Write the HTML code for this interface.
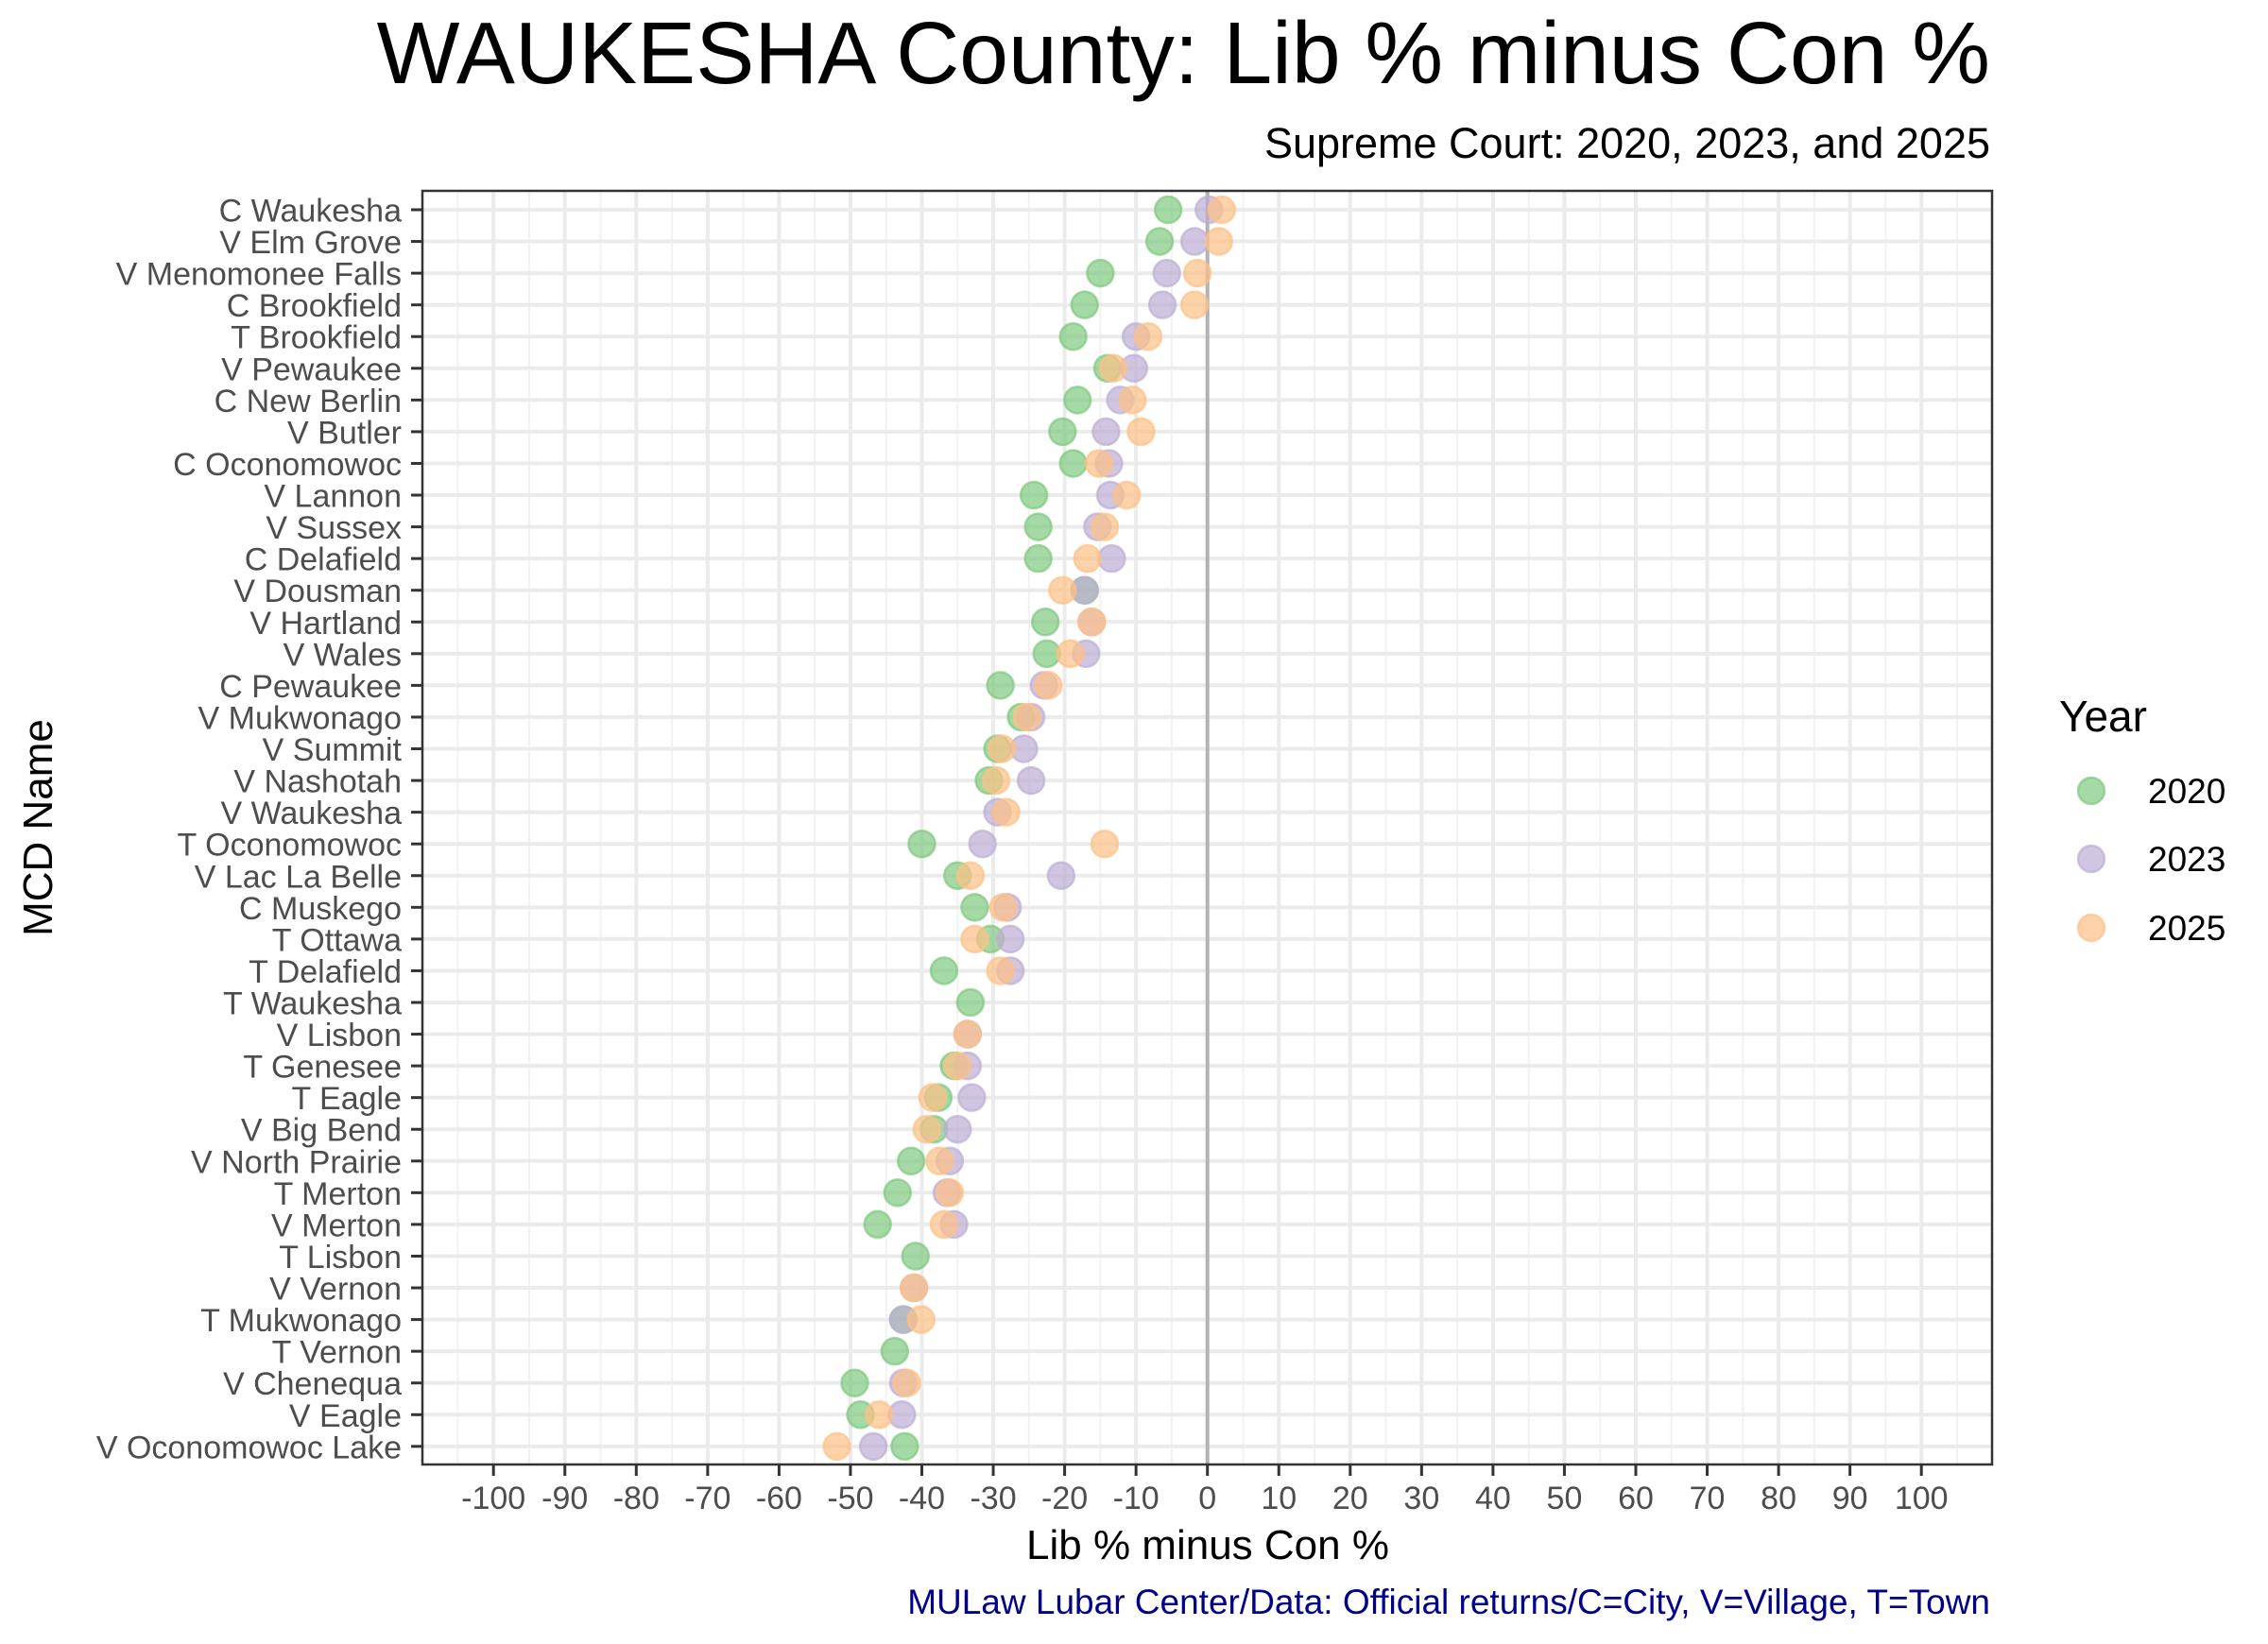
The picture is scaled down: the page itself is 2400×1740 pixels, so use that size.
<!DOCTYPE html>
<html><head><meta charset="utf-8"><title>WAUKESHA County: Lib % minus Con %</title>
<style>html,body{margin:0;padding:0;background:#fff}svg{display:block}text{font-family:"Liberation Sans",Arial,sans-serif}</style>
</head><body>
<svg id="chart" width="2400" height="1740" viewBox="0 0 2400 1740" xmlns="http://www.w3.org/2000/svg">
<rect width="2400" height="1740" fill="#fff"/>
<text x="2106" y="88" font-size="93" text-anchor="end" fill="#000">WAUKESHA County: Lib % minus Con %</text>
<text x="2106" y="167" font-size="45" text-anchor="end" fill="#000">Supreme Court: 2020, 2023, and 2025</text>
<g id="grid"></g>
<g id="points"></g>
<rect x="447" y="202" width="1661" height="1348" fill="none" stroke="#333" stroke-width="2.5"/>
<g id="axes"></g>
<text x="1278" y="1650" font-size="44" text-anchor="middle" fill="#000">Lib % minus Con %</text>
<text transform="translate(55,876) rotate(-90)" font-size="44" text-anchor="middle" fill="#000">MCD Name</text>
<text x="2106" y="1708" font-size="37" text-anchor="end" fill="#00008B">MULaw Lubar Center/Data: Official returns/C=City, V=Village, T=Town</text>
<g>
<text x="2179" y="774" font-size="46" fill="#000">Year</text>
<g id="legend-items"></g>
</g>
</svg>
<script>
const categories = ["C Waukesha","V Elm Grove","V Menomonee Falls","C Brookfield","T Brookfield","V Pewaukee","C New Berlin","V Butler","C Oconomowoc","V Lannon","V Sussex","C Delafield","V Dousman","V Hartland","V Wales","C Pewaukee","V Mukwonago","V Summit","V Nashotah","V Waukesha","T Oconomowoc","V Lac La Belle","C Muskego","T Ottawa","T Delafield","T Waukesha","V Lisbon","T Genesee","T Eagle","V Big Bend","V North Prairie","T Merton","V Merton","T Lisbon","V Vernon","T Mukwonago","T Vernon","V Chenequa","V Eagle","V Oconomowoc Lake"];
const values2020 = [-5.5,-6.7,-15,-17.2,-18.8,-14,-18.2,-20.3,-18.8,-24.3,-23.7,-23.7,-17.2,-22.7,-22.5,-29,-26.1,-29.4,-30.6,null,-40,-35,-32.6,-30.4,-36.9,-33.2,null,-35.5,-37.7,-38.3,-41.5,-43.4,-46.2,-40.9,null,-42.6,-43.8,-49.4,-48.6,-42.4];
const values2023 = [0.2,-1.8,-5.7,-6.3,-10,-10.3,-12.2,-14.2,-13.8,-13.6,-15.4,-13.4,-17.2,-16.2,-17,-22.9,-24.7,-25.7,-24.7,-29.4,-31.5,-20.5,-28,-27.6,-27.6,null,-33.6,-33.6,-33,-35,-36.1,-36.5,-35.5,null,-41.1,-42.6,null,-42.6,-42.8,-46.8];
const values2025 = [2,1.6,-1.4,-1.8,-8.3,-13.2,-10.5,-9.3,-15.2,-11.3,-14.4,-16.8,-20.3,-16.2,-19.2,-22.3,-25.3,-28.8,-29.6,-28.2,-14.4,-33.2,-28.6,-32.6,-29,null,-33.6,-35,-38.5,-39.3,-37.5,-36.1,-36.9,null,-41.1,-40.1,null,-42.1,-46,-51.9];
const years = ["2020","2023","2025"];
const xTicks = [-100,-90,-80,-70,-60,-50,-40,-30,-20,-10,0,10,20,30,40,50,60,70,80,90,100];

const NS = "http://www.w3.org/2000/svg";
const X0 = 1277.7, XS = 7.555, Y0 = 222, YS = 33.56;
const PL = 447, PR = 2108, PT = 202, PB = 1550;
function xScale(v){ return X0 + v*XS; }
function yScale(i){ return Y0 + i*YS; }
function mk(tag, attrs, parent){ const e=document.createElementNS(NS,tag); for(const k in attrs) e.setAttribute(k,attrs[k]); parent.appendChild(e); return e; }

const grid = document.getElementById('grid');
mk('rect',{x:PL,y:PT,width:PR-PL,height:PB-PT,fill:'#fff'},grid);
for (let v=-105; v<=105; v+=10){
  const l = mk('line',{x1:xScale(v),x2:xScale(v),y1:PT,y2:PB,stroke:'#f2f2f2','stroke-width':2},grid);
  
  
}
xTicks.forEach(v=>{
  const l = mk('line',{x1:xScale(v),x2:xScale(v),y1:PT,y2:PB,stroke:'#ebebeb','stroke-width':4},grid);
  
  
});
categories.forEach((c,i)=>{
  const l = mk('line',{x1:PL,x2:PR,y1:yScale(i),y2:yScale(i),stroke:'#ebebeb','stroke-width':4},grid);
  
  
});
const zl = mk('line',{x1:xScale(0),x2:xScale(0),y1:PT,y2:PB,stroke:'#b3b3b3','stroke-width':4},grid);



const colors = ["#7fc97f","#beaed4","#fdc086"];
const series = [values2020, values2023, values2025];
const pts = document.getElementById('points');
series.forEach((vals,s)=>{
  vals.forEach((v,i)=>{
    if (v===null) return;
    const c = mk('circle',{cx:xScale(v),cy:yScale(i),r:14,fill:colors[s],'fill-opacity':0.7,stroke:colors[s],'stroke-opacity':0.7,'stroke-width':2.5},pts);
    
    
  });
});

const axes = document.getElementById('axes');
categories.forEach((c,i)=>{
  const t = mk('line',{x1:PL-12,x2:PL,y1:yScale(i),y2:yScale(i),stroke:'#333','stroke-width':3},axes);
  
  
  const tx = mk('text',{x:PL-22,y:yScale(i)+12.5,'font-size':34,'text-anchor':'end',fill:'#4d4d4d'},axes);
  tx.textContent = c;
  
  
});
xTicks.forEach(v=>{
  const t = mk('line',{x1:xScale(v),x2:xScale(v),y1:PB,y2:PB+12,stroke:'#333','stroke-width':3},axes);
  
  
  const tx = mk('text',{x:xScale(v),y:1597,'font-size':34,'text-anchor':'middle',fill:'#4d4d4d'},axes);
  tx.textContent = String(v);
  
  
});

const leg = document.getElementById('legend-items');
const legY = [837,909,982];
years.forEach((y,s)=>{
  const c = mk('circle',{cx:2213,cy:legY[s],r:14,fill:colors[s],'fill-opacity':0.7,stroke:colors[s],'stroke-opacity':0.7,'stroke-width':2.5},leg);
  
  
  const t = mk('text',{x:2273,y:legY[s]+13,'font-size':37,fill:'#000'},leg);
  t.textContent = y;
  
  
});
</script>
</body></html>
